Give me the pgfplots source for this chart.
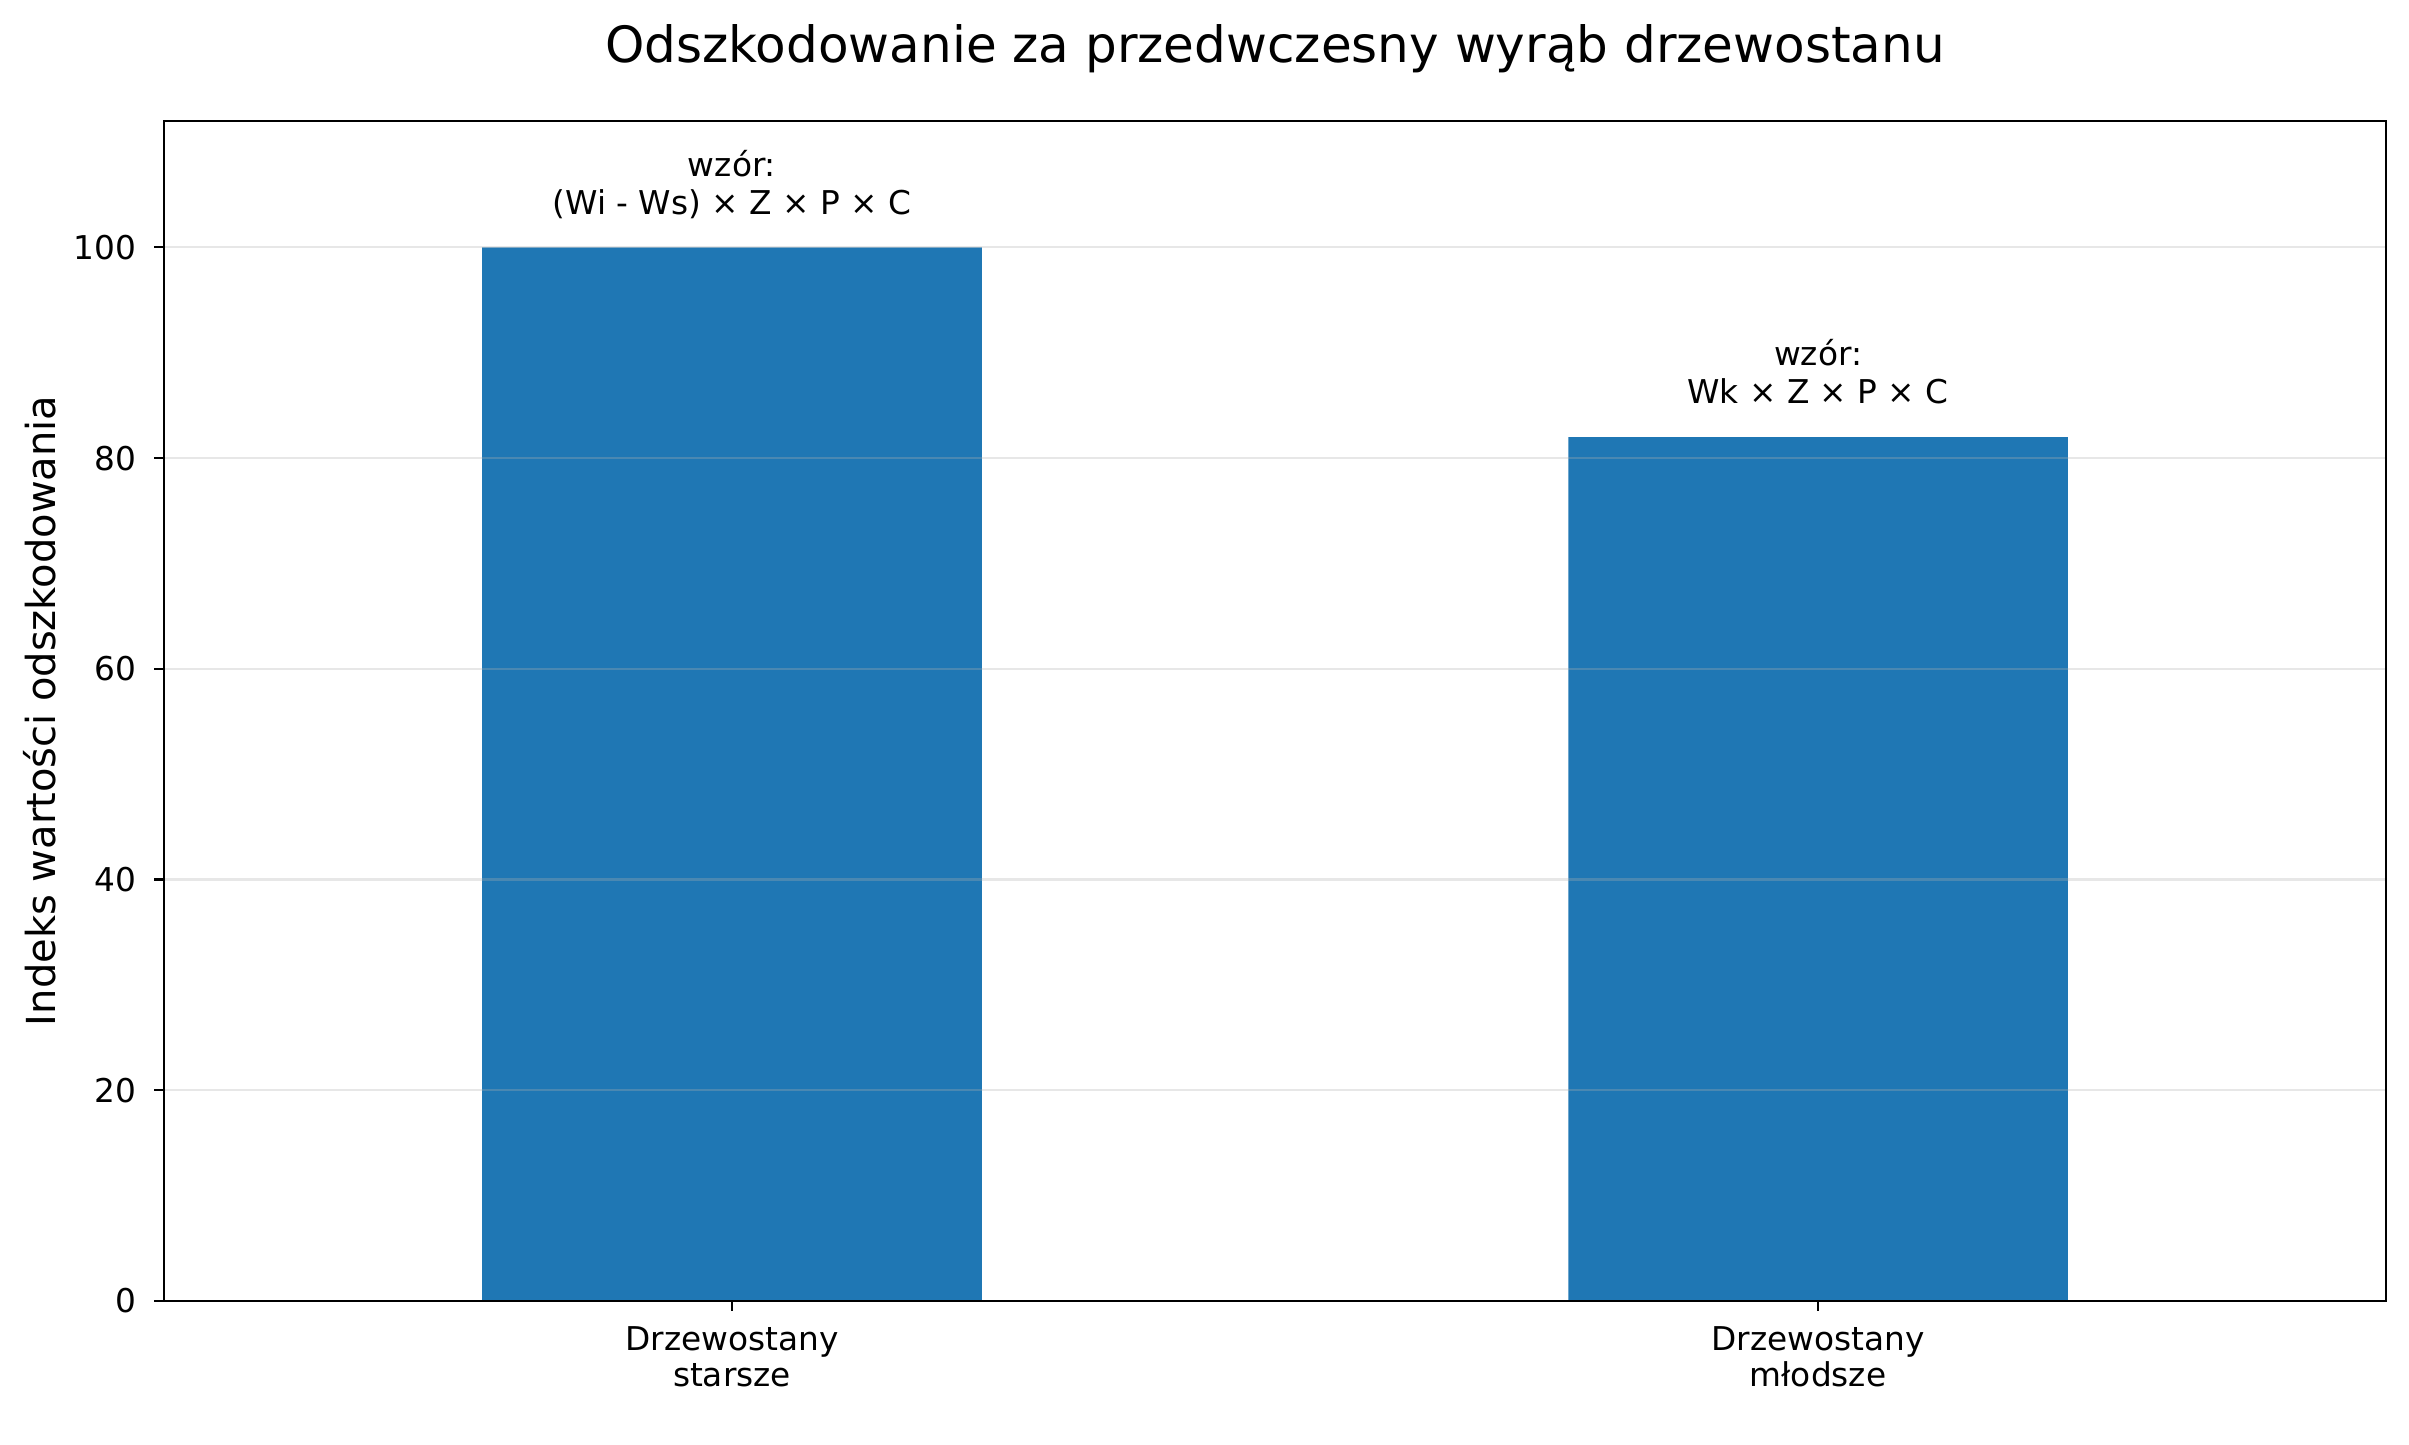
\documentclass[border=0pt]{standalone}
\usepackage{pgfplots}
\pgfplotsset{compat=1.18}
\usepackage{fontspec}
\setmainfont{DejaVu Sans}
\definecolor{barblue}{HTML}{1F77B4}
\definecolor{gridgray}{HTML}{B0B0B0}
\newcommand{\tickfont}{\fontsize{11.8}{13}\selectfont}

\begin{document}
\begin{tikzpicture}
\begin{axis}[
    scale only axis,
    width=800pt, height=424.8pt,
    xmin=-0.523, xmax=1.523,
    ymin=0, ymax=112,
    ybar, bar width=0.46,
    xtick={0,1},
    xticklabels={{Drzewostany\\starsze},{Drzewostany\\młodsze}},
    ytick={0,20,...,100},
    xtick pos=left, ytick pos=left,
    tick align=outside, major tick length=3.5pt,
    tick style={black, line width=0.8pt},
    axis line style={line width=0.8pt},
    ymajorgrids,
    grid style={gridgray, opacity=0.3, line width=0.8pt},
    axis on top,
    ticklabel style={font=\tickfont},
    /pgf/number format/assume math mode=true,
    xticklabel style={align=center, inner sep=0pt, anchor=north, yshift=-5.5pt},
    yticklabel style={inner sep=0pt, anchor=east, xshift=-6.2pt},
    ylabel={Indeks wartości odszkodowania},
    ylabel style={at={(axis description cs:-0.049,0.5)}, anchor=base,
        font=\fontsize{14.4}{17}\selectfont},
    clip=false,
]
\addplot[fill=barblue, draw=none] coordinates {(0,100) (1,82)};

% title, set by hand so its baseline sits where the reference has it
\node[anchor=base, font=\fontsize{18}{21}\selectfont]
    at (axis description cs:0.5,1.0499) {Odszkodowanie za przedwczesny wyrąb drzewostanu};

% formula notes above the bars
\node[anchor=base, font=\tickfont, yshift=25.6pt] at (axis cs:0,100) {wzór:};
\node[anchor=base, font=\tickfont, yshift=11.9pt] at (axis cs:0,100) {(Wi - Ws) × Z × P × C};
\node[anchor=base, font=\tickfont, yshift=25.6pt] at (axis cs:1,82) {wzór:};
\node[anchor=base, font=\tickfont, yshift=11.9pt] at (axis cs:1,82) {Wk × Z × P × C};

\coordinate (bl) at (axis description cs:-0.0738,-0.12203);
\coordinate (tr) at (axis description cs:1.01035,1.10254);
\end{axis}
\pgfresetboundingbox
\path[use as bounding box] (bl) rectangle (tr);
\end{tikzpicture}
\end{document}
